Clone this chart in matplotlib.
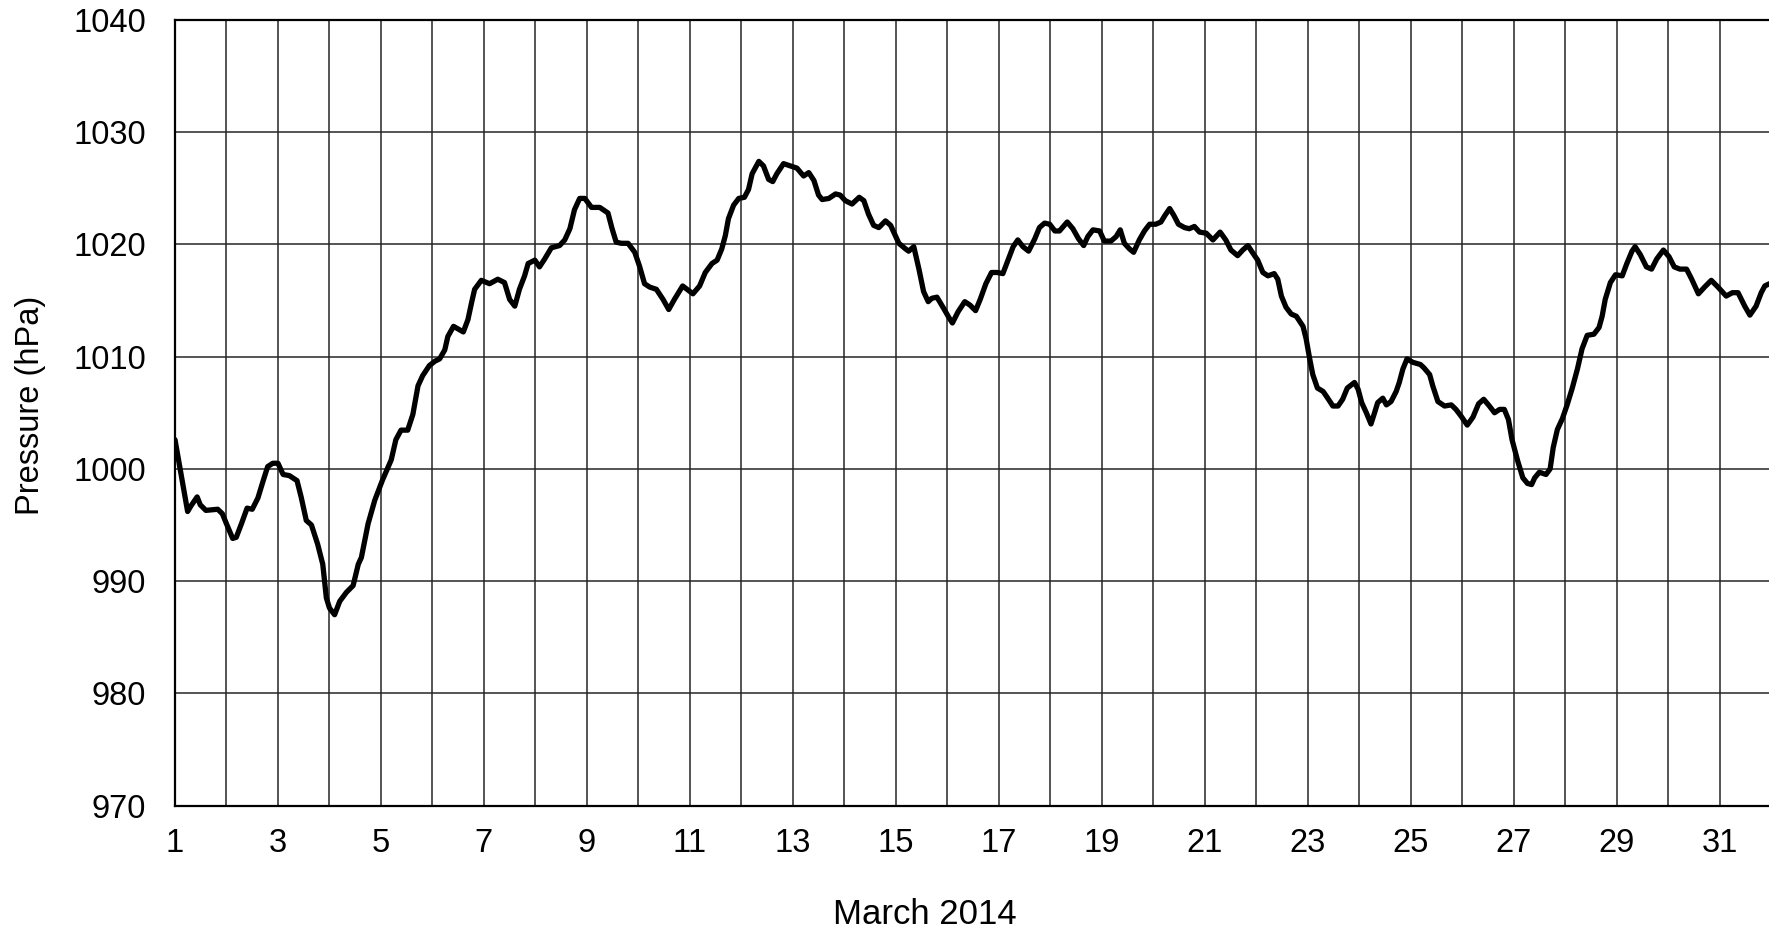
import matplotlib
matplotlib.use("Agg")
import matplotlib.pyplot as plt

# ---- data ----
days = [1.00, 1.245, 1.31, 1.43, 1.49, 1.60, 1.83, 1.92, 2.00, 2.12, 2.19, 2.29, 2.40, 2.50,
        2.61, 2.71, 2.80, 2.90, 3.00, 3.10, 3.22, 3.37, 3.45, 3.55, 3.65, 3.77, 3.87, 3.94,
        4.00, 4.10, 4.20, 4.33, 4.46, 4.56, 4.62, 4.75, 4.88, 5.03, 5.20, 5.29, 5.39, 5.52,
        5.62, 5.72, 5.81, 5.94, 6.05, 6.14, 6.24, 6.30, 6.41, 6.60, 6.69, 6.76, 6.82, 6.95,
        7.11, 7.27, 7.40, 7.50, 7.60, 7.69, 7.79, 7.86, 7.99, 8.08, 8.18, 8.31, 8.47, 8.57,
        8.67, 8.76, 8.86, 8.96, 9.09, 9.25, 9.41, 9.49, 9.57, 9.67, 9.80, 9.93, 10.02, 10.12,
        10.22, 10.35, 10.48, 10.59, 10.70, 10.86, 11.06, 11.19, 11.30, 11.43, 11.53, 11.62,
        11.69, 11.75, 11.85, 11.95, 12.06, 12.14, 12.21, 12.34, 12.43, 12.53, 12.61, 12.69,
        12.82, 12.95, 13.08, 13.21, 13.31, 13.41, 13.50, 13.57, 13.70, 13.83, 13.92, 14.02,
        14.15, 14.29, 14.38, 14.47, 14.57, 14.67, 14.80, 14.90, 14.99, 15.06, 15.19, 15.25,
        15.35, 15.45, 15.54, 15.63, 15.70, 15.80, 15.93, 16.03, 16.10, 16.21, 16.34, 16.44,
        16.55, 16.64, 16.75, 16.86, 16.97, 17.08, 17.18, 17.28, 17.37, 17.47, 17.58, 17.70,
        17.79, 17.89, 17.99, 18.09, 18.18, 18.33, 18.44, 18.55, 18.65, 18.73, 18.83, 18.96,
        19.05, 19.18, 19.28, 19.36, 19.44, 19.54, 19.62, 19.73, 19.83, 19.93, 20.05, 20.15,
        20.23, 20.32, 20.40, 20.49, 20.61, 20.70, 20.80, 20.90, 21.03, 21.16, 21.30, 21.41,
        21.51, 21.64, 21.74, 21.84, 21.94, 22.03, 22.13, 22.23, 22.35, 22.42, 22.49, 22.58,
        22.68, 22.78, 22.91, 22.97, 23.04, 23.10, 23.19, 23.30, 23.39, 23.49, 23.59, 23.68,
        23.77, 23.91, 23.98, 24.05, 24.14, 24.23, 24.30, 24.36, 24.46, 24.53, 24.62, 24.72,
        24.78, 24.85, 24.93, 25.04, 25.19, 25.26, 25.37, 25.43, 25.53, 25.66, 25.79, 25.88,
        25.98, 26.10, 26.21, 26.32, 26.42, 26.53, 26.63, 26.73, 26.82, 26.90, 26.97, 27.08,
        27.18, 27.27, 27.35, 27.41, 27.50, 27.63, 27.71, 27.77, 27.85, 27.95, 28.04, 28.14,
        28.24, 28.33, 28.43, 28.56, 28.66, 28.72, 28.78, 28.88, 28.98, 29.11, 29.20, 29.30,
        29.36, 29.46, 29.58, 29.68, 29.78, 29.91, 30.02, 30.12, 30.23, 30.36, 30.46, 30.59,
        30.71, 30.84, 30.97, 31.13, 31.25, 31.36, 31.49, 31.59, 31.71, 31.81, 31.88, 31.97]

pressure = [1002.6, 996.2, 996.7, 997.5, 996.8, 996.3, 996.4, 996.0, 995.1, 993.8, 993.9, 995.1,
            996.5, 996.4, 997.4, 998.9, 1000.2, 1000.5, 1000.5, 999.5, 999.4, 998.95, 997.5,
            995.4, 995.0, 993.3, 991.5, 988.5, 987.6, 987.0, 988.2, 989.0, 989.6, 991.5, 992.1,
            995.1, 997.2, 999.0, 1000.8, 1002.6, 1003.45, 1003.45, 1004.85, 1007.4, 1008.3,
            1009.2, 1009.6, 1009.8, 1010.6, 1011.8, 1012.7, 1012.2, 1013.3, 1014.8, 1016.0,
            1016.8, 1016.5, 1016.9, 1016.6, 1015.1, 1014.5, 1016.0, 1017.2, 1018.3, 1018.6,
            1018.0, 1018.7, 1019.7, 1019.9, 1020.4, 1021.4, 1023.1, 1024.1, 1024.1, 1023.3,
            1023.3, 1022.8, 1021.4, 1020.2, 1020.1, 1020.1, 1019.3, 1018.1, 1016.5, 1016.2,
            1016.0, 1015.1, 1014.2, 1015.1, 1016.3, 1015.6, 1016.3, 1017.5, 1018.3, 1018.6,
            1019.6, 1020.8, 1022.3, 1023.5, 1024.1, 1024.2, 1024.9, 1026.3, 1027.4, 1027.0,
            1025.8, 1025.6, 1026.3, 1027.2, 1027.0, 1026.8, 1026.1, 1026.4, 1025.7, 1024.4,
            1024.0, 1024.1, 1024.5, 1024.4, 1023.9, 1023.6, 1024.2, 1023.9, 1022.7, 1021.7,
            1021.5, 1022.1, 1021.7, 1020.8, 1020.1, 1019.6, 1019.4, 1019.8, 1017.8, 1015.8,
            1014.9, 1015.2, 1015.3, 1014.3, 1013.5, 1013.0, 1014.0, 1014.9, 1014.6, 1014.1,
            1015.1, 1016.5, 1017.5, 1017.5, 1017.4, 1018.6, 1019.8, 1020.4, 1019.8, 1019.4,
            1020.5, 1021.5, 1021.9, 1021.8, 1021.2, 1021.2, 1022.0, 1021.4, 1020.5, 1019.9,
            1020.7, 1021.3, 1021.2, 1020.3, 1020.3, 1020.7, 1021.3, 1020.1, 1019.6, 1019.3,
            1020.4, 1021.2, 1021.8, 1021.8, 1022.0, 1022.6, 1023.2, 1022.6, 1021.8, 1021.5,
            1021.4, 1021.6, 1021.1, 1021.0, 1020.4, 1021.1, 1020.4, 1019.5, 1019.0, 1019.5,
            1019.9, 1019.2, 1018.6, 1017.5, 1017.2, 1017.4, 1016.9, 1015.4, 1014.4, 1013.8,
            1013.6, 1012.7, 1011.6, 1009.8, 1008.4, 1007.2, 1006.9, 1006.3, 1005.6, 1005.6,
            1006.2, 1007.2, 1007.7, 1007.1, 1005.9, 1005.0, 1004.0, 1005.0, 1005.9, 1006.3,
            1005.7, 1006.0, 1006.9, 1007.7, 1008.9, 1009.8, 1009.5, 1009.3, 1009.0, 1008.4,
            1007.4, 1006.0, 1005.6, 1005.7, 1005.3, 1004.7, 1003.9, 1004.6, 1005.8, 1006.2,
            1005.6, 1005.0, 1005.3, 1005.3, 1004.4, 1002.6, 1000.7, 999.2, 998.7, 998.6,
            999.2, 999.7, 999.5, 1000.0, 1001.9, 1003.5, 1004.5, 1005.7, 1007.2, 1008.9,
            1010.7, 1011.9, 1012.0, 1012.6, 1013.6, 1015.1, 1016.6, 1017.3, 1017.2, 1018.3,
            1019.4, 1019.8, 1019.1, 1018.0, 1017.8, 1018.7, 1019.5, 1018.9, 1018.0, 1017.8,
            1017.8, 1016.9, 1015.6, 1016.2, 1016.8, 1016.2, 1015.4, 1015.7, 1015.7, 1014.5,
            1013.7, 1014.5, 1015.7, 1016.3, 1016.5]

x_tick_values = [1, 3, 5, 7, 9, 11, 13, 15, 17, 19, 21, 23, 25, 27, 29, 31]
x_tick_labels = ['1', '3', '5', '7', '9', '11', '13', '15', '17', '19', '21', '23', '25',
                 '27', '29', '31']
y_tick_values = [970, 980, 990, 1000, 1010, 1020, 1030, 1040]
y_tick_labels = ['970', '980', '990', '1000', '1010', '1020', '1030', '1040']
x_label = 'March 2014'
y_label = 'Pressure (hPa)'

# ---- figure ----
plt.rcParams['font.family'] = ['Liberation Sans', 'DejaVu Sans']

W, H = 1769, 933
fig = plt.figure(figsize=(W / 100, H / 100), dpi=100)
left_px, right_px, top_px, bottom_px = 175, 1771, 20, 805.5
ax = fig.add_axes([left_px / W, (H - bottom_px) / H,
                   (right_px - left_px) / W, (bottom_px - top_px) / H])

ax.plot(days, pressure, color='black', linewidth=3.8,
        solid_joinstyle='round', solid_capstyle='round', zorder=3)

ax.set_xlim(1, 32)
ax.set_ylim(970, 1040)
ax.set_xticks(x_tick_values)
ax.set_xticklabels(x_tick_labels)
ax.set_xticks(range(1, 33), minor=True)
ax.set_yticks(y_tick_values)
ax.set_yticklabels(y_tick_labels)

ax.grid(True, which='both', axis='x', color='#262626', linewidth=1.1)
ax.grid(True, which='major', axis='y', color='#262626', linewidth=1.1)
ax.set_axisbelow(True)

ax.tick_params(axis='both', which='both', length=0, labelsize=23.5, colors='black')
ax.tick_params(axis='x', which='major', pad=16)
ax.tick_params(axis='y', which='major', pad=21)

for side in ['left', 'bottom', 'top']:
    ax.spines[side].set_linewidth(1.6)
    ax.spines[side].set_color('black')
ax.spines['right'].set_visible(False)

ax.set_xlabel(x_label, fontsize=25)
ax.xaxis.set_label_coords((925 - left_px) / (right_px - left_px),
                          (bottom_px - 898) / (bottom_px - top_px))
ax.set_ylabel(y_label, fontsize=23.5)
ax.yaxis.set_label_coords((46 - left_px) / (right_px - left_px), 0.51)

fig.savefig('out.png', dpi=100)
